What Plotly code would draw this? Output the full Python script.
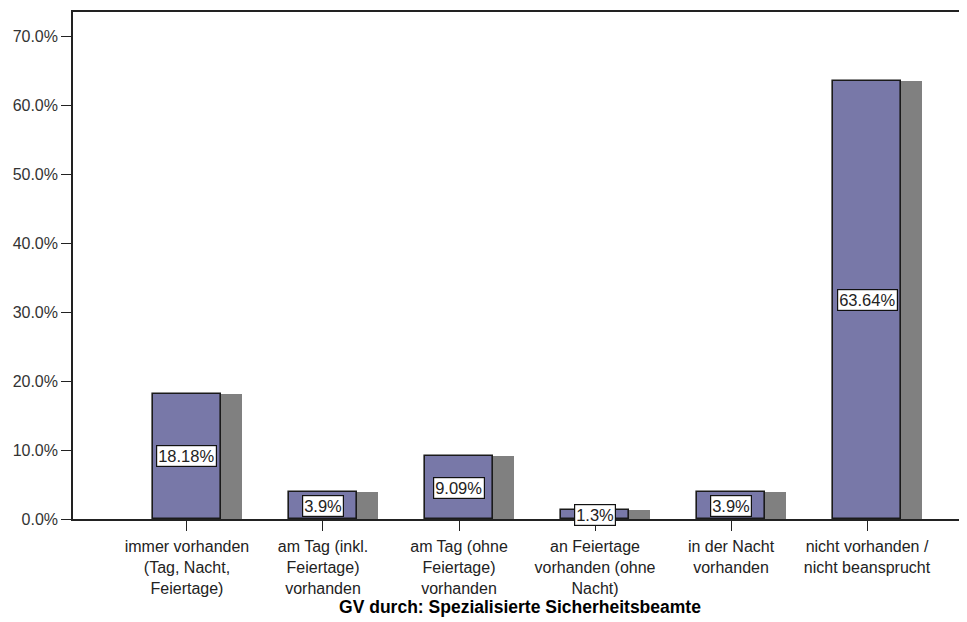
import plotly.graph_objects as go

categories = [
    "immer vorhanden<br>(Tag, Nacht,<br>Feiertage)",
    "am Tag (inkl.<br>Feiertage)<br>vorhanden",
    "am Tag (ohne<br>Feiertage)<br>vorhanden",
    "an Feiertage<br>vorhanden (ohne<br>Nacht)",
    "in der Nacht<br>vorhanden",
    "nicht vorhanden /<br>nicht beansprucht",
]
values = [18.18, 3.9, 9.09, 1.3, 3.9, 63.64]
value_labels = ["18.18%", "3.9%", "9.09%", "1.3%", "3.9%", "63.64%"]
y_ticks = [0, 10, 20, 30, 40, 50, 60, 70]
y_tick_labels = ["0.0%", "10.0%", "20.0%", "30.0%", "40.0%", "50.0%", "60.0%", "70.0%"]
x_title = "GV durch: Spezialisierte Sicherheitsbeamte"

FONT = "Liberation Sans, Arial, sans-serif"
idx = list(range(len(categories)))

fig = go.Figure()
# shadow bars
fig.add_trace(go.Bar(
    x=idx, y=values, width=0.5, offset=-0.25 + 0.155,
    marker=dict(color="#808080", line=dict(width=0)),
    hoverinfo="skip", showlegend=False,
))
# main bars
fig.add_trace(go.Bar(
    x=idx, y=values, width=0.5, offset=-0.25,
    marker=dict(color="#7878a8", line=dict(color="#1a1a1a", width=1.6)),
    showlegend=False,
))

for i, (v, lab) in enumerate(zip(values, value_labels)):
    fig.add_annotation(
        x=i, y=v / 2, text=lab, showarrow=False,
        font=dict(family=FONT, size=16.5, color="#222"),
        bgcolor="white", bordercolor="#111", borderwidth=1.2, borderpad=1,
    )

# page body has an 8px default margin, so the figure is 8px smaller than the window
fig.update_layout(
    width=959, height=614,
    margin=dict(l=65, r=0, t=4, b=103),
    paper_bgcolor="white", plot_bgcolor="white",
    barmode="overlay", bargap=0,
    font=dict(family=FONT, size=16, color="#222"),
)
fig.update_xaxes(
    range=[-0.838, 5.735], automargin=False,
    tickmode="array", tickvals=idx, ticktext=categories,
    ticks="outside", ticklen=10, tickcolor="#222", tickwidth=1.2,
    ticklabelstandoff=2,
    showline=True, linecolor="#222", linewidth=1.6, mirror=True,
    showgrid=False, zeroline=False,
    tickfont=dict(family=FONT, size=16, color="#222"),
    title=dict(text="<b>" + x_title + "</b>", font=dict(family=FONT, size=17.5, color="#000"), standoff=2),
)
fig.update_yaxes(
    range=[0, 73.6], automargin=False,
    tickmode="array", tickvals=y_ticks, ticktext=y_tick_labels,
    ticks="outside", ticklen=10, tickcolor="#222", tickwidth=1.2,
    showline=True, linecolor="#222", linewidth=1.6,
    showgrid=False, zeroline=False,
    tickfont=dict(family=FONT, size=16, color="#333"),
)

fig.write_html("out.html")
